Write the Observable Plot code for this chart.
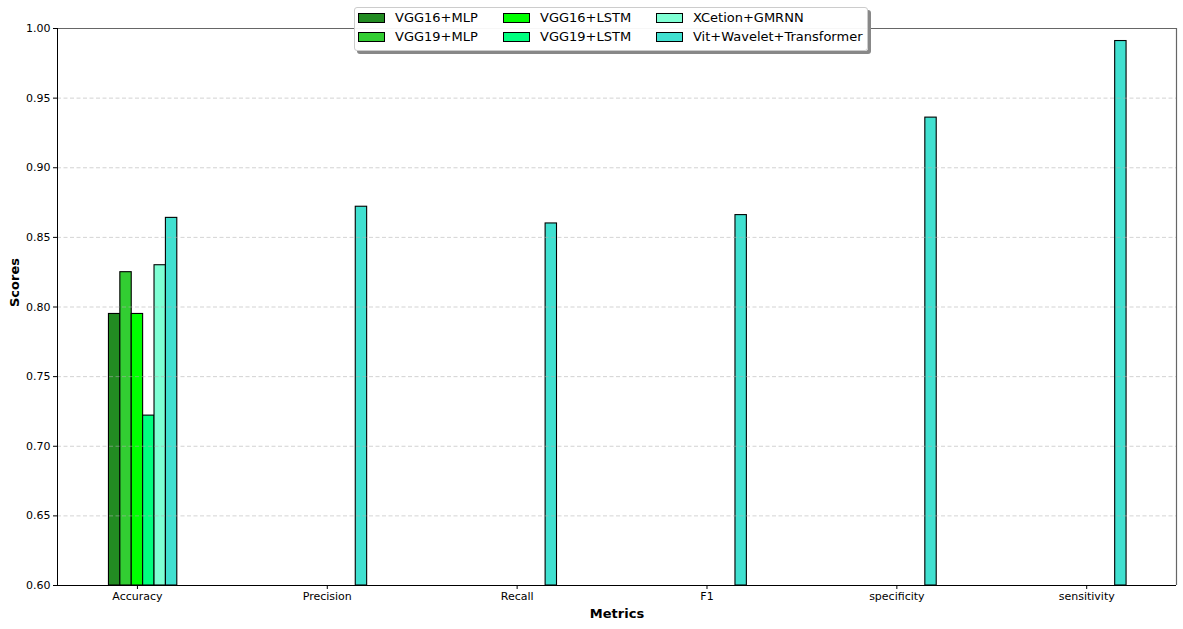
<!DOCTYPE html>
<html>
<head>
<meta charset="utf-8">
<script src="https://cdn.jsdelivr.net/npm/d3@7"></script>
<script src="https://cdn.jsdelivr.net/npm/@observablehq/plot@0.6"></script>
<style>
  html, body { margin: 0; padding: 0; background: #fff; }
  #wrap { position: relative; width: 1183px; height: 629px; font-family: "DejaVu Sans", sans-serif; }
  #legend { position: absolute; left: 354px; top: 7px; width: 512px; height: 42px;
    background: rgba(255,255,255,0.95); border: 1px solid #cccccc; border-radius: 3px;
    box-shadow: 3px 3px 0 #888; font-size: 13px; color: #000; }
  .item { position: absolute; display: flex; align-items: center; white-space: nowrap; line-height: 16px; height: 16px; }
  .sw { width: 27px; height: 10px; border: 1px solid #000; box-sizing: border-box; margin-right: 10px; }
</style>
</head>
<body>
<div id="wrap"><div id="chart"></div><div id="legend"></div></div>
<script>
const metrics = ["Accuracy", "Precision", "Recall", "F1", "specificity", "sensitivity"];
const models = ["VGG16+MLP", "VGG19+MLP", "VGG16+LSTM", "VGG19+LSTM", "XCetion+GMRNN", "Vit+Wavelet+Transformer"];
const colors = ["#228B22", "#32CD32", "#00FF00", "#00FF7F", "#7FFFD4", "#40E0D0"];
// values per model across metrics (null = not shown)
const vgg16Mlp  = [0.795, null, null, null, null, null];
const vgg19Mlp  = [0.825, null, null, null, null, null];
const vgg16Lstm = [0.795, null, null, null, null, null];
const vgg19Lstm = [0.722, null, null, null, null, null];
const xcetion   = [0.830, null, null, null, null, null];
const vitWave   = [0.864, 0.872, 0.860, 0.866, 0.936, 0.991];
const yTicks = [0.60, 0.65, 0.70, 0.75, 0.80, 0.85, 0.90, 0.95, 1.00];

const series = [vgg16Mlp, vgg19Mlp, vgg16Lstm, vgg19Lstm, xcetion, vitWave];
const barW = 0.06;
const rows = [];
series.forEach((vals, i) => vals.forEach((v, j) => {
  if (v != null) rows.push({model: models[i], mi: i, metric: j, value: v});
}));

const chart = Plot.plot({
  width: 1183,
  height: 629,
  marginLeft: 57,
  marginRight: 7,
  marginTop: 28,
  marginBottom: 44,
  style: {fontFamily: "DejaVu Sans, sans-serif", fontSize: "11px", color: "#000", background: "#fff"},
  x: {domain: [-0.421, 5.473], ticks: d3.range(metrics.length), tickFormat: i => metrics[i], tickSize: 4, label: null},
  y: {domain: [0.6, 1.0], ticks: yTicks, tickFormat: d3.format(".2f"), tickSize: 4, label: null},
  color: {domain: models, range: colors},
  marks: [
    Plot.rect(rows, {
      x1: d => d.metric + (d.mi - 2.5) * barW,
      x2: d => d.metric + (d.mi - 1.5) * barW,
      y1: 0.6, y2: "value",
      fill: "model", stroke: "#000", strokeWidth: 1.1
    }),
    Plot.ruleY(yTicks.slice(1, -1), {stroke: "#b0b0b0", strokeDasharray: "4,2.5", strokeOpacity: 0.7, strokeWidth: 0.8}),
    Plot.ruleY([1.0], {stroke: "#666", strokeWidth: 1.2}),
    Plot.ruleX([5.473], {stroke: "#666", strokeWidth: 1.2}),
    Plot.ruleX([-0.421], {stroke: "#000", strokeWidth: 1}),
    Plot.ruleY([0.6], {stroke: "#000", strokeWidth: 1}),
    Plot.axisX({ticks: d3.range(metrics.length), tickFormat: i => metrics[i], tickSize: 4, tickPadding: 3, label: null}),
    Plot.axisY({ticks: yTicks, tickFormat: d3.format(".2f"), tickSize: 4, tickPadding: 3, label: null}),
    Plot.text(["Metrics"], {frameAnchor: "bottom", dy: 32, fontWeight: "bold", fontSize: 13}),
    Plot.text(["Scores"], {frameAnchor: "left", dx: -43, rotate: -90, fontWeight: "bold", fontSize: 13})
  ]
});
document.getElementById("chart").appendChild(chart);

const legend = document.getElementById("legend");
const colX = [3, 148, 301];
const rowY = [2, 21];
models.forEach((m, i) => {
  const col = Math.floor(i / 2), row = i % 2;
  const el = document.createElement("div");
  el.className = "item";
  el.style.left = colX[col] + "px";
  el.style.top = rowY[row] + "px";
  el.innerHTML = `<span class="sw" style="background:${colors[i]}"></span><span>${m}</span>`;
  legend.appendChild(el);
});
</script>
</body>
</html>
